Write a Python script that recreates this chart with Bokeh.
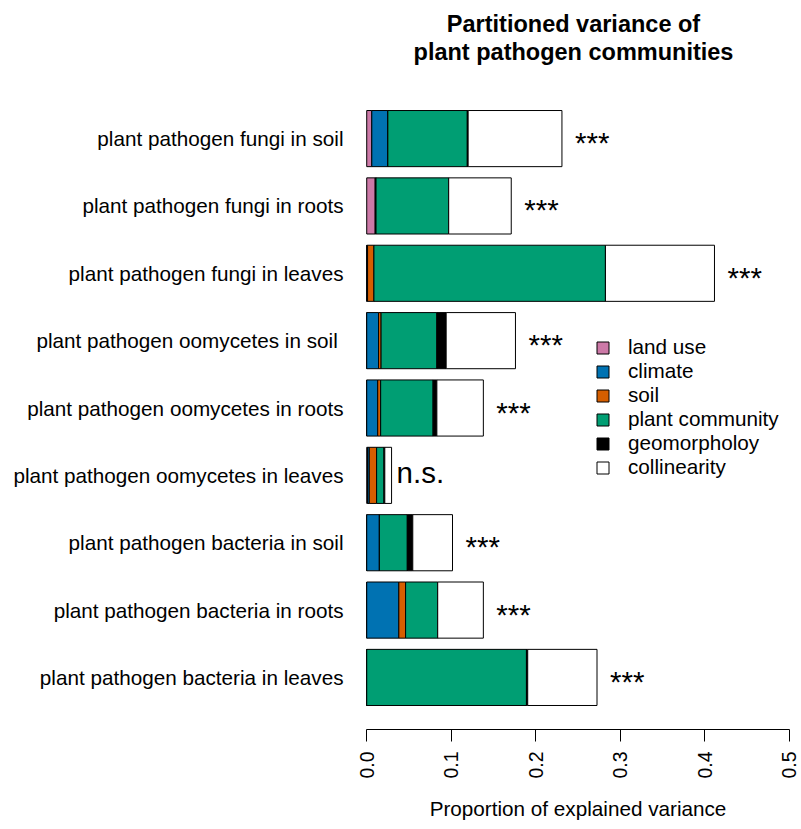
import math
from bokeh.plotting import figure
from bokeh.models import ColumnDataSource, Range1d, Label, FixedTicker, PrintfTickFormatter
from bokeh.core.properties import value
from bokeh.embed import file_html
from bokeh.resources import INLINE

# categories listed top to bottom as in the chart
categories = [
    "plant pathogen fungi in soil",
    "plant pathogen fungi in roots",
    "plant pathogen fungi in leaves",
    "plant pathogen oomycetes in  soil",
    "plant pathogen oomycetes in roots",
    "plant pathogen oomycetes in leaves",
    "plant pathogen bacteria in soil",
    "plant pathogen bacteria in roots",
    "plant pathogen bacteria in leaves",
]
land_use     = [0.006, 0.010, 0.000, 0.000, 0.000,  0.001,  0.000,  0.000, 0.000]
climate      = [0.019, 0.001, 0.001, 0.014, 0.013,  0.002,  0.015,  0.038, 0.000]
soil         = [0.000, 0.000, 0.0075, 0.003, 0.0035, 0.0087, 0.000,  0.008, 0.000]
plant_comm   = [0.094, 0.086, 0.274, 0.066, 0.062,  0.0087, 0.033,  0.038, 0.189]
geomorph     = [0.001, 0.000, 0.000, 0.011, 0.0045, 0.001,  0.0065, 0.000, 0.0015]
collinearity = [0.111, 0.074, 0.129, 0.082, 0.055,  0.008,  0.047,  0.054, 0.082]
significance = ["***", "***", "***", "***", "***", "n.s.", "***", "***", "***"]

legend_labels = ["land use", "climate", "soil", "plant community", "geomorpholoy", "collinearity"]
colors = ["#CC79A7", "#0072B2", "#D55E00", "#009E73", "#000000", "#FFFFFF"]
x_ticks = [0.0, 0.1, 0.2, 0.3, 0.4, 0.5]
title_lines = ["Partitioned variance of", "plant pathogen communities"]
x_label = "Proportion of explained variance"

FONT = "Liberation Sans"

n = len(categories)
# bar slots counted from the bottom (last category at the bottom)
pos = [n - 1 - i for i in range(n)]
stackers = ["land_use", "climate", "soil", "plant", "geomorph", "colli"]
src = ColumnDataSource({
    "pos": pos,
    "land_use": land_use, "climate": climate, "soil": soil,
    "plant": plant_comm, "geomorph": geomorph, "colli": collinearity,
})

totals = [land_use[i] + climate[i] + soil[i] + plant_comm[i] + geomorph[i] + collinearity[i]
          for i in range(n)]

p = figure(
    width=801, height=829,
    y_range=Range1d(-0.773, 10.05),
    x_range=Range1d(-0.005, 0.505),
    output_backend="svg", toolbar_location=None,
    min_border_left=362, min_border_right=8, min_border_top=0, min_border_bottom=100,
)
p.outline_line_color = None
p.grid.visible = False
p.background_fill_color = "white"

p.hbar_stack(stackers, y="pos", height=1 / 1.2, source=src,
             fill_color=colors, line_color="black", line_width=1,
             legend_label=legend_labels)

stars_x = [totals[i] for i in range(n) if significance[i] == "***"]
stars_y = [pos[i] for i in range(n) if significance[i] == "***"]
ns_x = [totals[i] for i in range(n) if significance[i] != "***"]
ns_y = [pos[i] for i in range(n) if significance[i] != "***"]
ns_t = [significance[i] for i in range(n) if significance[i] != "***"]

p.text(x=stars_x, y=stars_y, text=["***"] * len(stars_x), x_offset=13, y_offset=4,
       text_baseline="middle", text_align="left",
       text_font=value(FONT), text_font_size="29.5px", text_color="black")
p.text(x=ns_x, y=ns_y, text=ns_t, x_offset=5, y_offset=-3,
       text_baseline="middle", text_align="left",
       text_font=value(FONT), text_font_size="29.5px", text_color="black")

xa = p.xaxis[0]
xa.ticker = FixedTicker(ticks=x_ticks)
xa.formatter = PrintfTickFormatter(format="%.1f")
xa.bounds = (0, 0.5)
xa.major_label_orientation = math.pi / 2
xa.major_tick_out = 12
xa.major_tick_in = 0
xa.minor_tick_out = 0
xa.minor_tick_in = 0
xa.major_label_standoff = 10
xa.major_label_text_font = FONT
xa.major_label_text_font_size = "19.5px"
xa.major_label_text_color = "black"
xa.axis_line_color = "black"
xa.major_tick_line_color = "black"
xa.axis_label = x_label
xa.axis_label_text_font = FONT
xa.axis_label_text_font_size = "20.7px"
xa.axis_label_text_font_style = "normal"
xa.axis_label_text_color = "black"
xa.axis_label_standoff = 15

ya = p.yaxis[0]
ya.ticker = FixedTicker(ticks=pos)
ya.major_label_overrides = {pos[i]: categories[i] for i in range(n)}
ya.axis_line_color = None
ya.major_tick_line_color = None
ya.minor_tick_line_color = None
ya.major_tick_out = 0
ya.major_tick_in = 0
ya.minor_tick_out = 0
ya.minor_tick_in = 0
ya.major_label_standoff = 19
ya.major_label_text_font = FONT
ya.major_label_text_font_size = "20.7px"
ya.major_label_text_color = "black"

lg = p.legend[0]
lg.location = (233, 250)
lg.padding = 0
lg.margin = 0
lg.spacing = 0
lg.border_line_color = None
lg.background_fill_alpha = 0
lg.glyph_width = 15
lg.glyph_height = 15
lg.label_height = 24
lg.label_standoff = 18
lg.label_text_font = FONT
lg.label_text_font_size = "20.7px"
lg.label_text_color = "black"
lg.label_text_baseline = "middle"

# two centred title lines (screen units: from frame left / frame bottom)
for line, ybase in zip(title_lines, [706, 678]):
    p.add_layout(Label(x=211, y=ybase, x_units="screen", y_units="screen", text=line,
                       text_align="center", text_baseline="alphabetic",
                       text_font=FONT, text_font_size="23.5px", text_font_style="bold",
                       text_color="black"))

open("out.html", "w").write(file_html(p, INLINE))
